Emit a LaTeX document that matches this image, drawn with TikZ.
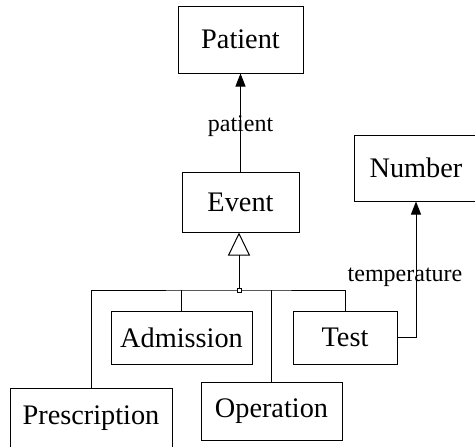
\documentclass[tikz,border=0pt]{standalone}
\usepackage{fontspec}
\setmainfont{Liberation Serif}
\usetikzlibrary{positioning,arrows.meta}

\tikzset{
    class/.style={draw, rectangle, inner sep=0pt, font=\fontsize{28.3}{34}\selectfont},
    role/.style={font=\fontsize{24}{29}\selectfont},
    assoc/.style={-{Triangle[length=13pt,width=10pt]}},
    isa/.style={-{Triangle[open,length=23pt,width=22pt]}}
}

\begin{document}
\begin{tikzpicture}[x=1pt, y=-1pt, line width=1pt]
\useasboundingbox (0,0) rectangle (475,447);

% classes
\node[class, minimum width=125pt, minimum height=67pt] (Patient) at (240.5,39.5) {Patient};
\node[class, minimum width=117pt, minimum height=60pt] (Event) at (240.5,202) {Event};
\node[class, minimum width=124pt, minimum height=66pt] (Number) at (416,168) {Number};
\node[class, minimum width=141pt, minimum height=53pt] (Admission) at (181.5,337.5) {Admission};
\node[class, minimum width=104pt, minimum height=53pt] (Test) at (345,337.5) {Test};
\node[class, minimum width=162pt, minimum height=60pt] (Prescription) at (91,418) {Prescription};
\node[class, minimum width=141pt, minimum height=58pt] (Operation) at (271.5,411) {Operation};

% associations
\draw[assoc] (Event) -- node[role, yshift=-4pt] {patient} (Patient);
\draw[assoc] (Test.east) -| node[role, pos=0.72, xshift=-11pt] {temperature} (Number.south);

% subclasses of Event
\coordinate (bus) at (239,290);
\draw[isa] (bus) -- (bus |- Event.south);
\draw (Prescription.north) |- (bus) -| (Test.north);
\foreach \sub in {Admission, Operation} {
    \draw (\sub.north) -- (\sub.north |- bus);
}
\node[draw, fill=white, line width=0.8pt, minimum size=4pt, inner sep=0pt] (joint) at (bus) {};

\end{tikzpicture}
\end{document}
